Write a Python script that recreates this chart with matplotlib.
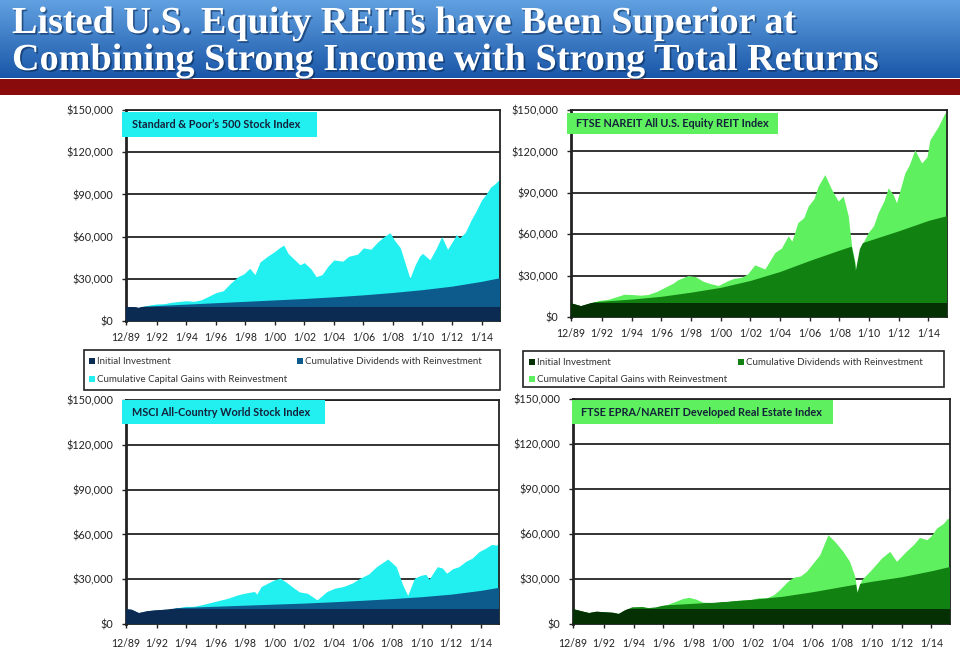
import numpy as np
import matplotlib
matplotlib.use("Agg")
import matplotlib.pyplot as plt
from matplotlib.patches import Rectangle
import matplotlib.patheffects as pe

# ---- data ($ growth of 10,000) ----
initial_investment = 10000
x_start, x_end = 1989.92, 2015.25
tick_pos = [1989.92, 1992, 1994, 1996, 1998, 2000, 2002, 2004, 2006, 2008, 2010, 2012, 2014]
tick_labels = ['12/89', '1/92', '1/94', '1/96', '1/98', '1/00', '1/02', '1/04', '1/06',
               '1/08', '1/10', '1/12', '1/14']
y_ticks = [0, 30000, 60000, 90000, 120000, 150000]

# cumulative dividends (with reinvestment) sampled at these dates
div_years = [1989.92, 1992, 1994, 1996, 1998, 2000, 2002, 2004, 2006, 2008, 2010, 2012, 2014, 2015.25]
sp_div = [0, 1000, 2000, 3000, 4000, 5000, 6000, 7200, 8600, 10300, 12300, 14800, 18200, 20800]
reit_div = [0, 1500, 3000, 5000, 8000, 11500, 16500, 23000, 31000, 38500, 45500, 52500, 60000, 63500]
msci_div = [0, 600, 1200, 1900, 2600, 3300, 4000, 4900, 5900, 7000, 8300, 10000, 12500, 14600]
gre_div = [0, 800, 1700, 2700, 3800, 5000, 6500, 8500, 11500, 15000, 18500, 21500, 25500, 28400]

# total value (initial + dividends + capital gains)
sp_years = [1989.92, 1990.3, 1990.8, 1991.2, 1991.6, 1992.0, 1992.5, 1993.0, 1993.5, 1994.0,
            1994.5, 1995.0, 1995.5, 1996.0, 1996.5, 1997.0, 1997.5, 1997.9, 1998.3, 1998.65,
            1999.0, 1999.5, 2000.0, 2000.3, 2000.6, 2000.9, 2001.2, 2001.7, 2002.0, 2002.45,
            2002.8, 2003.2, 2003.6, 2004.0, 2004.6, 2005.0, 2005.6, 2006.0, 2006.5, 2007.0,
            2007.4, 2007.8, 2008.1, 2008.5, 2008.8, 2009.15, 2009.5, 2009.8, 2010.0, 2010.5,
            2010.9, 2011.3, 2011.7, 2012.0, 2012.3, 2012.5, 2012.9, 2013.3, 2013.6, 2014.0,
            2014.3, 2014.6, 2014.9, 2015.25]
sp_total = [10000, 10300, 9300, 10800, 11500, 12100, 12300, 13300, 13900, 14400,
            14000, 15000, 17500, 20100, 21500, 26800, 31500, 33500, 37500, 33000,
            42000, 46000, 49500, 52000, 54000, 48000, 45000, 40000, 41500, 37000,
            31500, 33000, 39000, 43400, 42500, 46000, 47500, 52000, 51000, 56500,
            60000, 62800, 57500, 52000, 42000, 30400, 39800, 46000, 48100, 43500,
            51000, 60000, 51000, 56000, 61500, 59000, 63000, 72000, 77500, 86000,
            90000, 95000, 97500, 101000]

reit_years = [1989.92, 1990.6, 1991.2, 1991.8, 1992.4, 1992.9, 1993.5, 1994.0, 1994.6, 1995.1,
              1995.7, 1996.25, 1996.8, 1997.1, 1997.8, 1998.3, 1998.8, 1999.2, 1999.84, 2000.5,
              2000.9, 2001.4, 2001.8, 2002.3, 2002.98, 2003.66, 2004.1, 2004.55, 2004.8, 2005.2,
              2005.6, 2005.9, 2006.3, 2006.57, 2007.02, 2007.48, 2007.92, 2008.26, 2008.6, 2008.82,
              2009.05, 2009.11, 2009.38, 2009.94, 2010.3, 2010.61, 2011.0, 2011.29, 2011.62, 2011.85,
              2012.41, 2012.7, 2013.08, 2013.54, 2013.9, 2014.1, 2014.66, 2015.1, 2015.25]
reit_total = [10000, 7900, 9800, 12000, 12800, 14400, 16500, 16300, 15800, 16300,
              18500, 21600, 24500, 26900, 30000, 29300, 26000, 24500, 22800, 26400,
              28000, 28800, 31000, 37800, 34800, 46800, 50000, 58800, 55000, 68400,
              72000, 80400, 86000, 94800, 103200, 92400, 84000, 87600, 73200, 51600,
              39600, 33600, 49200, 61200, 66000, 75600, 84000, 93600, 88800, 82800,
              104400, 110000, 121200, 111600, 116000, 128400, 138000, 147600, 149000]

msci_years = [1989.92, 1990.3, 1990.8, 1991.4, 1991.93, 1992.8, 1993.95, 1994.5, 1995.07, 1995.96,
              1996.86, 1997.5, 1997.97, 1998.64, 1998.8, 1999.1, 1999.98, 2000.4, 2000.8, 2001.33,
              2001.7, 2002.23, 2002.9, 2003.57, 2004.1, 2004.68, 2005.3, 2005.8, 2006.4, 2006.93,
              2007.7, 2008.27, 2008.71, 2009.05, 2009.5, 2009.9, 2010.28, 2010.5, 2011.06, 2011.4,
              2011.7, 2012.1, 2012.52, 2013.0, 2013.41, 2013.9, 2014.31, 2014.75, 2015.09, 2015.25]
msci_total = [10000, 9600, 7300, 8600, 9100, 9700, 11800, 11800, 12900, 15100,
              17300, 19500, 20600, 21800, 20000, 25100, 29500, 30600, 28000, 24000,
              21500, 20600, 16200, 21800, 24000, 25100, 27500, 30600, 33500, 38400,
              43500, 38400, 26200, 19100, 30600, 32500, 33300, 30000, 38400, 37500,
              34000, 37000, 38400, 42000, 44000, 48500, 50600, 53300, 52800, 54500]

gre_years = [1989.92, 1990.5, 1991.0, 1991.5, 1992.1, 1992.6, 1993.0, 1993.4, 1993.9, 1994.6,
             1995.0, 1995.5, 1996.2, 1996.8, 1997.3, 1997.7, 1998.2, 1998.6, 1999.2, 1999.8,
             2000.4, 2001.0, 2001.8, 2002.4, 2002.9, 2003.4, 2003.8, 2004.3, 2004.7, 2005.2,
             2005.6, 2006.0, 2006.5, 2007.05, 2007.5, 2008.06, 2008.5, 2008.85, 2009.03, 2009.3,
             2009.86, 2010.3, 2010.65, 2011.2, 2011.66, 2012.3, 2012.8, 2013.2, 2013.7, 2014.0,
             2014.35, 2014.8, 2015.1, 2015.25]
gre_total = [10000, 8500, 7300, 8200, 7800, 7500, 6700, 9000, 11100, 11300,
             10600, 11100, 12800, 15100, 17000, 17800, 16500, 14700, 14200, 14600,
             15100, 15800, 16200, 17500, 17300, 19500, 22900, 28000, 31100, 32000,
             35100, 40000, 46200, 59500, 55100, 48400, 41800, 31800, 20700, 29500,
             35100, 40000, 44000, 48400, 41800, 48400, 53000, 57700, 56200, 59000,
             64000, 67000, 70600, 69500]

legend_labels = ['Initial Investment', 'Cumulative Dividends with Reinvestment',
                 'Cumulative Capital Gains with Reinvestment']
blue_colors = ['#0b2b52', '#0d5b8c', '#22f0f0']
green_colors = ['#043004', '#118211', '#5ef05e']

W, H = 960, 654


def frect(l, t, r, b):
    return [l / W, 1 - b / H, (r - l) / W, (b - t) / H]


fig = plt.figure(figsize=(9.6, 6.54), dpi=100)
fig.patch.set_facecolor('white')

# title banner
ban = fig.add_axes(frect(0, 0, W, 78))
grad = np.linspace(0, 1, 100).reshape(-1, 1)
top_c = np.array([0.38, 0.63, 0.88])
bot_c = np.array([0.10, 0.34, 0.66])
img = top_c[None, None, :] * (1 - grad[:, :, None]) + bot_c[None, None, :] * grad[:, :, None]
ban.imshow(img, aspect='auto', extent=[0, 1, 0, 1])
ban.axis('off')
fig.add_artist(Rectangle((0, 1 - 95 / H), 1, 16 / H, transform=fig.transFigure,
                         facecolor='#8a0b0b', edgecolor='none'))
title_fx = [pe.withSimplePatchShadow(offset=(1.2, -1.2), shadow_rgbFace='#0a2a55', alpha=0.6)]
fig.text(12 / W, 1 - 33 / H, 'Listed U.S. Equity REITs have Been Superior at',
         family='Liberation Serif', weight='bold', fontsize=27.5, color='white',
         va='baseline', ha='left', path_effects=title_fx)
fig.text(12 / W, 1 - 70 / H, 'Combining Strong Income with Strong Total Returns',
         family='Liberation Serif', weight='bold', fontsize=27.5, color='white',
         va='baseline', ha='left', path_effects=title_fx)

panels = [
    (frect(126, 110, 500, 321), sp_years, sp_total, sp_div, blue_colors,
     'Standard & Poor\u2019s 500 Stock Index', (122, 112, 317, 137, 132),
     (84, 350, 500, 390, 92, 300, 361, 379), 5),
    (frect(571, 110, 947, 317), reit_years, reit_total, reit_div, green_colors,
     'FTSE NAREIT All U.S. Equity REIT Index', (567, 113, 778, 134, 576),
     (523, 351, 944, 387, 532, 741, 362, 379), 5),
    (frect(126, 400, 499, 624), msci_years, msci_total, msci_div, blue_colors,
     'MSCI All-Country World Stock Index', (122, 400, 325, 424, 132), None, 7),
    (frect(573, 399, 950, 624), gre_years, gre_total, gre_div, green_colors,
     'FTSE EPRA/NAREIT Developed Real Estate Index', (572, 400, 833, 424, 581), None, 7),
]

for rect, yrs, total, div, cols, label, lbox, leg, xpad in panels:
    ax = fig.add_axes(rect)
    ax.set_xlim(x_start, x_end)
    ax.set_ylim(0, 150000)
    ax.set_yticks(y_ticks)
    ax.set_yticklabels(['${:,}'.format(v) for v in y_ticks])
    ax.set_xticks(tick_pos)
    ax.set_xticklabels(tick_labels)
    ax.tick_params(axis='y', direction='out', length=3, width=1, pad=6,
                   labelsize=7.8, labelcolor='#222222', color='#222222')
    ax.tick_params(axis='x', direction='out', length=3, width=1, pad=xpad,
                   labelsize=7.6, labelcolor='#222222', color='#222222')
    for lab in ax.get_xticklabels() + ax.get_yticklabels():
        lab.set_family('Lato')
    ax.set_axisbelow(True)
    ax.yaxis.grid(True, color='#333333', linewidth=1.4)
    for s in ax.spines.values():
        s.set_color('#222222')
        s.set_linewidth(1.3)
    ax.spines['left'].set_linewidth(2)

    # capital gains layer: everything up to total value
    tot = ax.fill_between(yrs, 0, total, color=cols[2], linewidth=0, zorder=2)
    clip = tot.get_paths()[0]
    div_top = [initial_investment + d for d in div]
    dv = ax.fill_between(div_years, 0, div_top, color=cols[1], linewidth=0, zorder=3)
    dv.set_clip_path(clip, ax.transData)
    ini = ax.fill_between([x_start, x_end], 0, [initial_investment, initial_investment],
                          color=cols[0], linewidth=0, zorder=4)
    ini.set_clip_path(clip, ax.transData)

    # index name box
    l, t, r, b, tx = lbox
    fig.add_artist(Rectangle((l / W, 1 - b / H), (r - l) / W, (b - t) / H,
                             transform=fig.transFigure, facecolor=cols[2],
                             edgecolor='none', zorder=5))
    fig.text(tx / W, 1 - (t + b) / 2 / H, label, family='Lato', weight='bold',
             fontsize=7.8, color='#14213a', va='center', ha='left', zorder=6)

    # legend box
    if leg is not None:
        l, t, r, b, m1, m2, r1, r2 = leg
        fig.add_artist(Rectangle((l / W, 1 - b / H), (r - l) / W, (b - t) / H,
                                 transform=fig.transFigure, facecolor='white',
                                 edgecolor='#222222', linewidth=1.2))
        spots = [(m1, r1), (m2, r1), (m1, r2)]
        for (mx, my), c, txt in zip(spots, cols, legend_labels):
            fig.add_artist(Rectangle(((mx - 3) / W, 1 - (my + 3) / H), 6 / W, 6 / H,
                                     transform=fig.transFigure, facecolor=c,
                                     edgecolor='none'))
            fig.text((mx + 5) / W, 1 - my / H, txt, family='Lato', fontsize=7,
                     color='#333333', va='center', ha='left')

fig.savefig('out.png', dpi=100)
